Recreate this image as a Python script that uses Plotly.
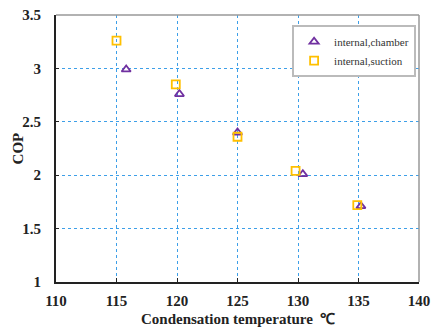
import plotly.graph_objects as go

# Condensation temperature (°C) and COP for the two configurations
temp_chamber = [115.8, 120.2, 125.0, 130.4, 135.2]
cop_chamber = [2.99, 2.76, 2.40, 2.01, 1.71]
temp_suction = [115.0, 119.9, 125.0, 129.8, 134.9]
cop_suction = [3.26, 2.85, 2.36, 2.04, 1.72]

x_ticks = [110, 115, 120, 125, 130, 135, 140]
y_ticks = [1, 1.5, 2, 2.5, 3, 3.5]
y_tick_text = ["1", "1.5", "2", "2.5", "3", "3.5"]

font_family = "Times New Roman"
grid_color = "#3d9fe8"
tick_font = dict(family=font_family, size=15, color="#222", weight="bold")
title_font = dict(family=font_family, size=15, color="#222", weight="bold")

fig = go.Figure()
fig.add_trace(go.Scatter(
    x=temp_chamber, y=cop_chamber, mode="markers", name="internal,chamber",
    marker=dict(symbol="triangle-up-open", size=8, color="#7030a0",
                line=dict(width=1.8, color="#7030a0")),
))
fig.add_trace(go.Scatter(
    x=temp_suction, y=cop_suction, mode="markers", name="internal,suction",
    marker=dict(symbol="square-open", size=8, color="#ffc000",
                line=dict(width=1.8, color="#ffc000")),
))

fig.update_layout(
    width=433, height=327,
    margin=dict(l=56, r=14, t=15, b=45),
    paper_bgcolor="white", plot_bgcolor="white",
    font=dict(family=font_family, size=12, color="#222"),
    showlegend=True,
    legend=dict(
        x=0.992, y=0.962, xanchor="right", yanchor="top",
        bgcolor="white", bordercolor="#bbbbbb", borderwidth=2,
        font=dict(family=font_family, size=11, color="#333"),
        itemwidth=30, tracegroupgap=0,
    ),
)

fig.update_xaxes(
    range=[110, 140], tickvals=x_ticks, automargin=False,
    showgrid=True, gridcolor=grid_color, griddash="dot", gridwidth=1,
    zeroline=False,
    showline=True, linecolor="#222", linewidth=2, mirror=False,
    ticks="inside", ticklen=4, tickcolor="#222", ticklabelstandoff=4,
    tickfont=tick_font,
)
fig.update_yaxes(
    range=[1, 3.5], tickvals=y_ticks, ticktext=y_tick_text, automargin=False,
    showgrid=True, gridcolor=grid_color, griddash="dot", gridwidth=1,
    zeroline=False,
    showline=True, linecolor="#222", linewidth=2, mirror=False,
    ticks="inside", ticklen=3, tickcolor="#222", ticklabelstandoff=10,
    tickfont=tick_font,
)

# Axis titles
fig.add_annotation(text="Condensation temperature  \u2103", xref="paper", yref="paper",
                   x=0.5, y=-0.14, xanchor="center", yanchor="middle",
                   showarrow=False, font=title_font)
fig.add_annotation(text="COP", xref="paper", yref="paper",
                   x=-0.105, y=0.5, xanchor="center", yanchor="middle",
                   textangle=-90, showarrow=False, font=title_font)

# Gray frame on the top and right edges of the plotting area
fig.add_shape(type="line", xref="paper", yref="paper", x0=0, x1=1, y0=1, y1=1,
              line=dict(color="#999999", width=1.5))
fig.add_shape(type="line", xref="paper", yref="paper", x0=1, x1=1, y0=0, y1=1,
              line=dict(color="#999999", width=1.5))

fig.write_html("out.html")
